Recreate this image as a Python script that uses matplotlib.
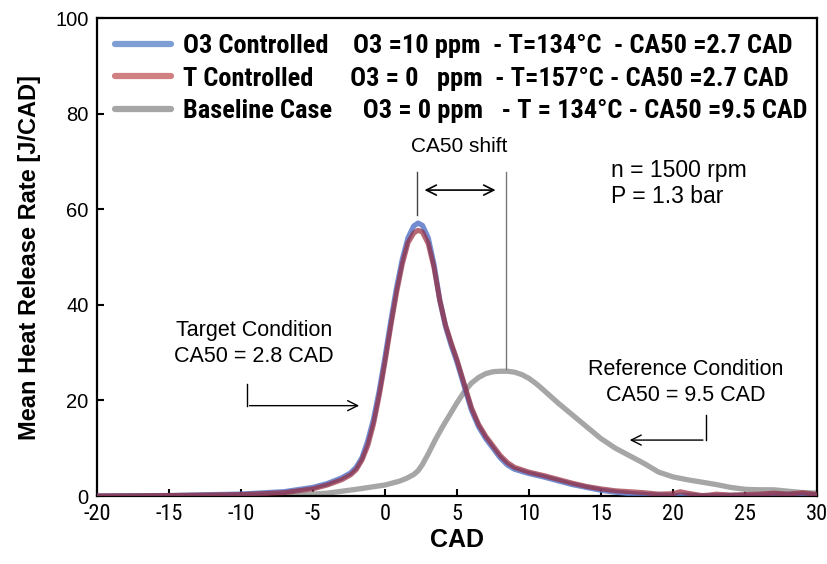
import matplotlib
matplotlib.use("Agg")
import matplotlib.pyplot as plt
from matplotlib.lines import Line2D
from matplotlib import font_manager
from matplotlib.font_manager import FontProperties

# ---- data ----
x_o3 = [-20, -15, -10, -7, -5, -4, -3, -2.4, -2, -1.6, -1.2, -0.8, -0.4, 0, 0.4, 0.8, 1.2, 1.6, 2, 2.3, 2.6,
        3, 3.4, 3.8, 4.2, 4.6, 5, 5.5, 6, 6.5, 7, 7.5, 8, 8.5, 9, 10, 11, 12, 13, 14, 15, 16, 17, 18, 19,
        20, 21, 22, 24, 26, 28, 30]
y_o3 = [0, 0.1, 0.4, 0.9, 1.8, 2.6, 3.8, 4.8, 6, 8, 11.5, 16, 22, 29, 36.5, 43.5, 49.5, 54, 56.5, 57.1, 56.6,
        54, 48.5, 41, 35.5, 31.5, 28, 23, 18, 14.5, 12, 10, 8, 6.5, 5.6, 4.7, 4.0, 3.2, 2.4, 1.8, 1.2, 0.8,
        0.5, 0.3, 0.2, 0.1, 0.2, 0, 0.1, 0.2, 0.3, 0.2]

x_t = [-20, -15, -10, -7, -5, -4, -3, -2.4, -2, -1.6, -1.2, -0.8, -0.4, 0, 0.4, 0.8, 1.2, 1.6, 2, 2.3, 2.6,
       3, 3.4, 3.8, 4.2, 4.6, 5, 5.5, 6, 6.5, 7, 7.5, 8, 8.5, 9, 10, 11, 12, 13, 14, 15, 16, 17, 18, 19,
       20, 20.5, 21, 22, 22.5, 23, 24, 25, 26, 27, 28, 29, 30]
y_t = [0, 0.1, 0.3, 0.7, 1.5, 2.3, 3.4, 4.4, 5.5, 7.5, 10.5, 15, 21, 28, 35.5, 42.5, 48.5, 53, 55, 55.6, 55.2,
       52.8, 47.8, 41, 35.8, 32, 28.5, 23.5, 18.5, 15, 12.5, 10.5, 8.5, 7, 6, 5.0, 4.3, 3.5, 2.7, 2.0, 1.5,
       1.1, 0.9, 0.7, 0.4, 0.5, 0.9, 0.6, 0.1, 0.2, 0.4, 0.2, 0.3, 0.4, 0.6, 0.4, 0.7, 0.3]

x_base = [-20, -10, -6, -4, -2, 0, 1, 1.5, 2, 2.3, 2.6, 3, 3.5, 4, 4.5, 5, 5.5, 6, 6.5, 7, 7.5, 8, 8.5, 9,
          9.5, 10, 10.5, 11, 12, 13, 14, 15, 16, 17, 18, 19, 20, 21, 22, 23, 24, 25, 26, 27, 28, 29, 30]
y_base = [0, 0, 0.2, 0.6, 1.4, 2.3, 3.1, 3.7, 4.5, 5.3, 6.6, 8.8, 11.8, 14.5, 17, 19.5, 21.8, 23.6, 24.8,
          25.6, 26.0, 26.1, 26.1, 25.9, 25.4, 24.6, 23.5, 22.2, 19.5, 17, 14.5, 12, 10, 8.4, 6.8, 5, 4.0,
          3.4, 2.9, 2.4, 1.8, 1.4, 1.3, 1.3, 1.0, 0.7, 0.6]

labels = ["O3 Controlled    O3 =10 ppm  - T=134°C  - CA50 =2.7 CAD",
          "T Controlled      O3 = 0   ppm  - T=157°C - CA50 =2.7 CAD",
          "Baseline Case     O3 = 0 ppm   - T = 134°C - CA50 =9.5 CAD"]

xticks = [-20, -15, -10, -5, 0, 5, 10, 15, 20, 25, 30]
yticks = [0, 20, 40, 60, 80, 100]

# ---- fonts ----
plt.rcParams['font.family'] = ['Liberation Sans', 'DejaVu Sans']


def find_narrow(bold):
    prefs = ['liberationsansnarrow', 'robotocondensed', 'dejavusanscondensed', 'opensanscondensed']
    files = [f.fname for f in font_manager.fontManager.ttflist]
    for p in prefs:
        for fn in files:
            base = fn.lower().replace('-', '').replace('_', '').split('/')[-1]
            if base.startswith(p):
                isbold = 'bold' in base
                if isbold == bold and 'italic' not in base and 'oblique' not in base:
                    return fn
    return None


nb = find_narrow(True)
nr = find_narrow(False)
if nb:
    leg_prop = FontProperties(fname=nb, size=19)
else:
    leg_prop = FontProperties(family='Liberation Sans', weight='bold', size=16.5)
if nr:
    xt_prop = FontProperties(fname=nr, size=16)
else:
    xt_prop = FontProperties(family='Liberation Sans', size=14)

fig = plt.figure(figsize=(8.28, 5.64), dpi=100)
ax = fig.add_axes([97/828, 1-496/564, 720/828, 478/564])

ax.plot(x_base, y_base, color='#a6a6a6', lw=3.8, solid_capstyle='round', solid_joinstyle='round', zorder=2)
ax.plot(x_o3, y_o3, color='#5a78c8', lw=3.8, alpha=0.85, solid_capstyle='round', solid_joinstyle='round', zorder=3)
ax.plot(x_t, y_t, color='#962838', lw=3.6, alpha=0.7, solid_capstyle='round', solid_joinstyle='round', zorder=4)

ax.set_xlim(-20, 30)
ax.set_ylim(0, 100)
ax.set_xticks(xticks)
ax.set_yticks(yticks)
ax.tick_params(direction='in', length=5, width=1.5, pad=6)
ax.set_xticklabels([str(v) for v in xticks], fontproperties=xt_prop)
ax.set_yticklabels([str(v) for v in yticks], fontsize=14.5)
for s in ax.spines.values():
    s.set_linewidth(1.6)

ax.set_xlabel("CAD", fontsize=18, fontweight='bold', labelpad=2)
ax.set_ylabel("Mean Heat Release Rate [J/CAD]", fontsize=17, fontweight='bold', labelpad=10)

# legend
handles = [Line2D([], [], color='#7f9fd4', lw=4.5, solid_capstyle='round'),
           Line2D([], [], color='#d08080', lw=4.5, solid_capstyle='round'),
           Line2D([], [], color='#a6a6a6', lw=4.5, solid_capstyle='round')]
leg = ax.legend(handles, labels, loc='upper left', frameon=False, handlelength=2.1,
                handletextpad=0.45, labelspacing=0.32, borderaxespad=0.3,
                bbox_to_anchor=(0.0, 1.005), prop=leg_prop)

# annotations
ax.text(5.14, 73.1, "CA50 shift", ha='center', va='center', fontsize=15)
ax.plot([2.24, 2.24], [58.8, 67.8], color='#444444', lw=1)
ax.plot([8.4, 8.4], [26.5, 67.8], color='#777777', lw=1)
ax.annotate("", xy=(2.55, 64.0), xytext=(7.87, 64.0),
            arrowprops=dict(arrowstyle='<->', color='black', lw=1.2, mutation_scale=18))

ax.text(15.7, 68.1, "n = 1500 rpm", ha='left', va='center', fontsize=16.5)
ax.text(15.7, 62.6, "P = 1.3 bar", ha='left', va='center', fontsize=16.5)

ax.text(-9.11, 34.6, "Target Condition", ha='center', va='center', fontsize=15.5)
ax.text(-9.11, 29.1, "CA50 = 2.8 CAD", ha='center', va='center', fontsize=15.5)
ax.plot([-9.6, -9.6], [23.4, 18.9], color='black', lw=1)
ax.annotate("", xy=(-1.6, 18.9), xytext=(-9.6, 18.9),
            arrowprops=dict(arrowstyle='->', color='black', lw=1, mutation_scale=18))

ax.text(20.9, 26.4, "Reference Condition", ha='center', va='center', fontsize=15.5)
ax.text(20.9, 21.1, "CA50 = 9.5 CAD", ha='center', va='center', fontsize=15.5)
ax.plot([22.27, 22.27], [16.9, 11.7], color='black', lw=1)
ax.annotate("", xy=(16.8, 11.7), xytext=(22.27, 11.7),
            arrowprops=dict(arrowstyle='->', color='black', lw=1, mutation_scale=18))

fig.savefig("out.png", dpi=100)
